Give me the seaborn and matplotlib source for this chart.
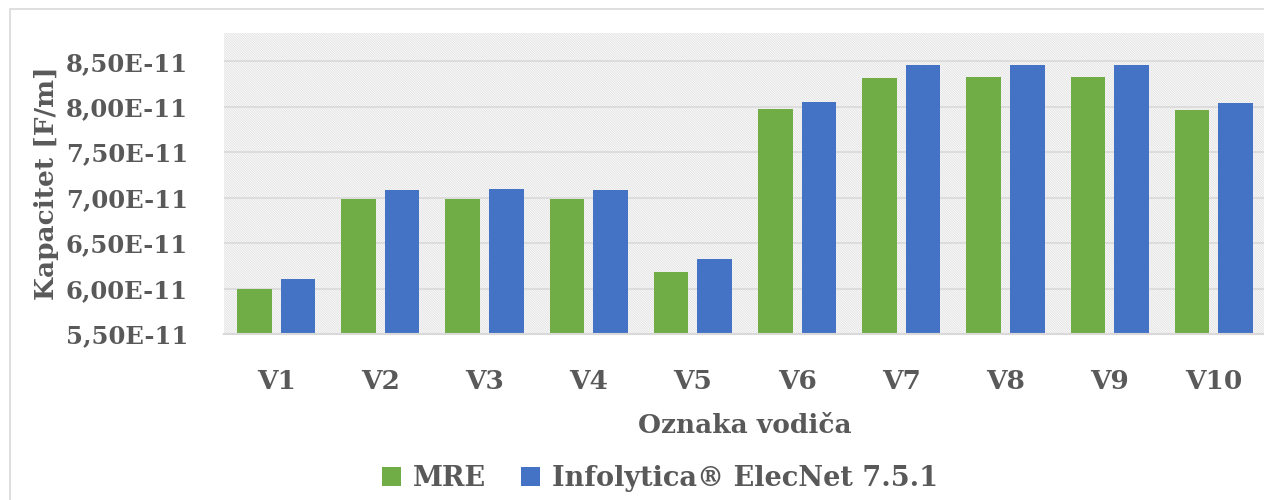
import numpy as np
import pandas as pd
import matplotlib
matplotlib.use("Agg")
import matplotlib.pyplot as plt
from matplotlib.patches import Rectangle
from matplotlib.ticker import FuncFormatter, FixedLocator
import seaborn as sns

# Conductor labels and capacitance per unit length [F/m]
conductors = ["V1", "V2", "V3", "V4", "V5", "V6", "V7", "V8", "V9", "V10"]
mre_values = [5.99e-11, 6.98e-11, 6.99e-11, 6.99e-11, 6.18e-11,
              7.97e-11, 8.31e-11, 8.33e-11, 8.33e-11, 7.96e-11]
elecnet_values = [6.10e-11, 7.08e-11, 7.09e-11, 7.08e-11, 6.32e-11,
                  8.05e-11, 8.46e-11, 8.46e-11, 8.46e-11, 8.04e-11]
series_names = ["MRE", "Infolytica® ElecNet 7.5.1"]
y_ticks = [5.5e-11, 6.0e-11, 6.5e-11, 7.0e-11, 7.5e-11, 8.0e-11, 8.5e-11]

df = pd.DataFrame({
    "Oznaka": conductors * 2,
    "Kapacitet": mre_values + elecnet_values,
    "Metoda": [series_names[0]] * len(conductors) + [series_names[1]] * len(conductors),
})

sns.set_theme(style="white")
plt.rcParams["font.family"] = ["DejaVu Serif"]
plt.rcParams["hatch.linewidth"] = 0.7

text_color = "#595959"
grid_color = "#d9d9d9"
palette = {series_names[0]: "#70AD47", series_names[1]: "#4472C4"}

W, H = 1264, 500
fig = plt.figure(figsize=(W / 100, H / 100), dpi=100)

# Outer chart frame
fig.patches.append(Rectangle((10 / W, -0.1), 1.2, (H - 9) / H + 0.1,
                             transform=fig.transFigure, facecolor="none",
                             edgecolor=grid_color, lw=1.2, zorder=0))

left, right, top, bottom = 224, 1266, 33, 334
ax = fig.add_axes([left / W, (H - bottom) / H, (right - left) / W, (bottom - top) / H])

# Hatched plot-area background
ax.add_patch(Rectangle((0, 0), 1, 1, transform=ax.transAxes, facecolor="white",
                       edgecolor="#e3e3e3", hatch="\\" * 14, lw=0, zorder=-2))

sns.barplot(data=df, x="Oznaka", y="Kapacitet", hue="Metoda", palette=palette,
            width=0.838, gap=0.21, saturation=1, ax=ax, zorder=3,
            edgecolor="none", linewidth=0)

ax.set_ylim(5.5e-11, 8.81e-11)
ax.set_xlim(-0.5, len(conductors) - 0.5)
ax.yaxis.set_major_locator(FixedLocator(y_ticks))
ax.yaxis.set_major_formatter(FuncFormatter(
    lambda v, _: f"{v / 1e-11:.2f}".replace(".", ",") + "E-11"))

ax.set_axisbelow(True)
for t in y_ticks[1:]:
    ax.axhline(t, color=grid_color, lw=1.2, zorder=1)

for s in ["top", "right", "left"]:
    ax.spines[s].set_visible(False)
ax.spines["bottom"].set_color(grid_color)
ax.spines["bottom"].set_linewidth(1.5)
ax.spines["bottom"].set_zorder(4)

ax.tick_params(axis="y", length=0, colors=text_color, labelsize=17.5, pad=26)
ax.tick_params(axis="x", length=0, colors=text_color, labelsize=19, pad=25)
for lab in ax.get_xticklabels() + ax.get_yticklabels():
    lab.set_fontweight("bold")

ax.set_xlabel("Oznaka vodiča", fontsize=19, fontweight="bold", color=text_color, labelpad=14)
ax.set_ylabel("Kapacitet [F/m]", fontsize=19, fontweight="bold", color=text_color, labelpad=5)

ax.legend_.remove()
handles = [Rectangle((0, 0), 1, 1, facecolor=palette[n], edgecolor="none") for n in series_names]
leg = fig.legend(handles, series_names, loc="center", bbox_to_anchor=(660 / W, (H - 478) / H),
                 ncol=2, frameon=False, fontsize=19.5, handlelength=0.7, handleheight=0.7,
                 handletextpad=0.45, columnspacing=1.3)
for t in leg.get_texts():
    t.set_color(text_color)
    t.set_fontweight("bold")

fig.savefig("out.png", dpi=100)
